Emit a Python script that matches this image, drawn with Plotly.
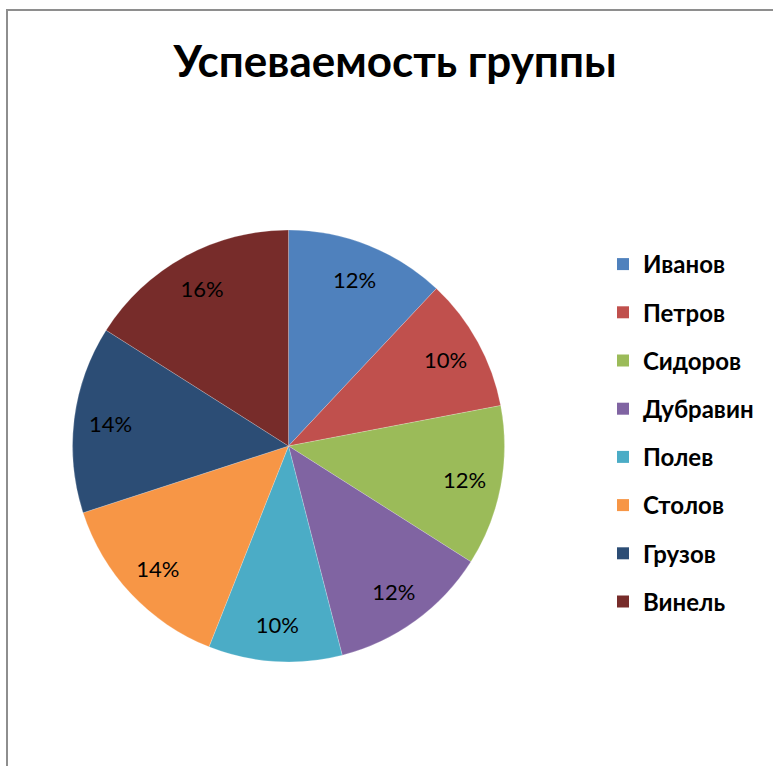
import plotly.graph_objects as go

title = "Успеваемость группы"
students = ["Иванов", "Петров", "Сидоров", "Дубравин", "Полев", "Столов", "Грузов", "Винель"]
scores = [6, 5, 6, 6, 5, 7, 7, 8]
colors = ["#4F81BD", "#C0504D", "#9BBB59", "#8064A2", "#4BACC6", "#F79646", "#2C4D75", "#772C2A"]

W, H = 773, 766
cx, cy, R = 288.5, 446, 216
dom = dict(x=[(cx - R) / W, (cx + R) / W], y=[(H - cy - R) / H, (H - cy + R) / H])

fig = go.Figure()
fig.add_trace(go.Pie(
    labels=students, values=scores, sort=False, direction="clockwise", rotation=0,
    marker=dict(colors=colors, line=dict(color="rgba(255,255,255,0.4)", width=0.5)),
    textinfo="none", showlegend=False, hoverinfo="label+percent", domain=dom,
))
# transparent ring that carries the percentage labels near the outer edge
fig.add_trace(go.Pie(
    labels=students, values=scores, sort=False, direction="clockwise", rotation=0, hole=0.66,
    marker=dict(colors=["rgba(0,0,0,0)"] * len(students), line=dict(width=0)),
    texttemplate="%{percent:.0%}", textposition="inside", insidetextorientation="horizontal",
    textfont=dict(family="Lato", size=22, color="#000000"),
    showlegend=False, hoverinfo="skip", domain=dom,
))
for s, c in zip(students, colors):
    fig.add_trace(go.Scatter(
        x=[None], y=[None], mode="markers", name=s, legendgroup=s,
        marker=dict(symbol="square", size=14, color=c),
    ))

fig.update_layout(
    width=W, height=H, margin=dict(l=0, r=0, t=0, b=0),
    paper_bgcolor="white", plot_bgcolor="white",
    xaxis=dict(visible=False), yaxis=dict(visible=False),
    title=dict(text="<b>" + title + "</b>", x=395 / W, xanchor="center", y=1 - 62 / H, yanchor="middle",
               font=dict(family="Lato", size=44, color="#000000")),
    legend=dict(x=603 / W, y=1 - 242 / H, xanchor="left", yanchor="top",
                font=dict(family="Lato", size=24, color="#000000", weight="bold"),
                tracegroupgap=14, itemsizing="constant", bgcolor="rgba(0,0,0,0)"),
    shapes=[dict(type="rect", xref="paper", yref="paper", x0=7 / W, x1=1.05, y0=-0.05, y1=1 - 10 / H,
                 line=dict(color="#8E8E8E", width=2), fillcolor="rgba(0,0,0,0)")],
)
fig.write_html("out.html")
